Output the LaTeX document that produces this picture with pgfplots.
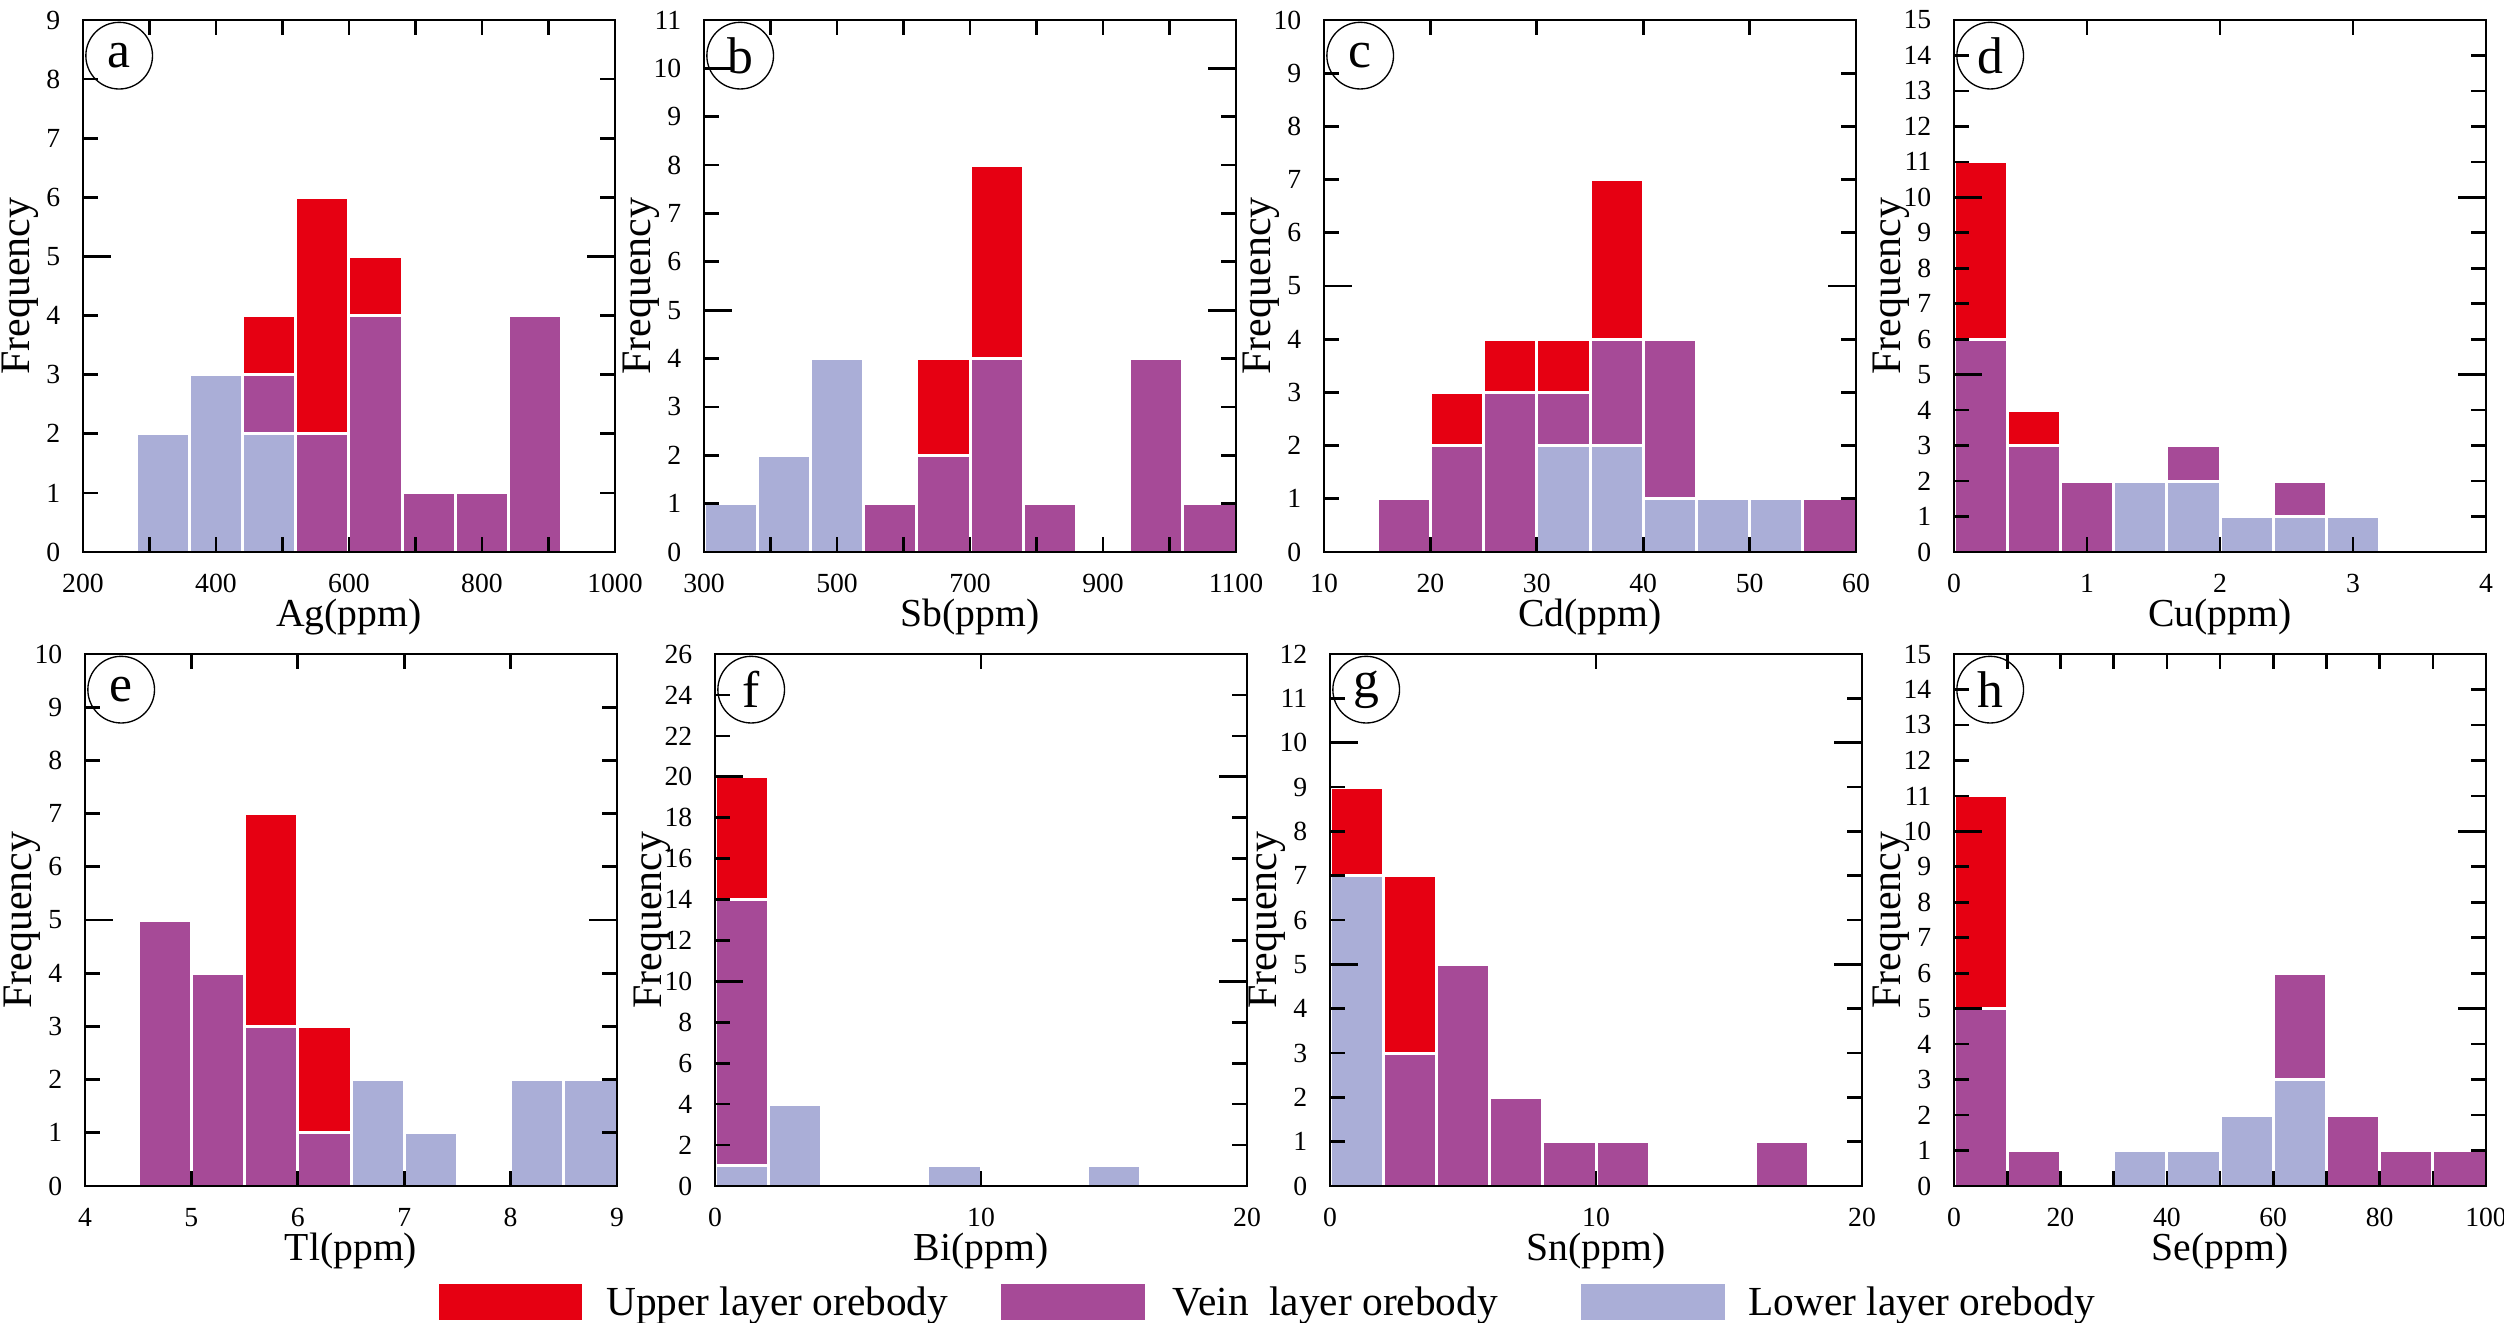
\documentclass[border=0pt]{standalone}
\usepackage{fontspec}
\setmainfont{Liberation Serif}
\usepackage{pgfplots}
\pgfplotsset{compat=1.18}
\definecolor{cupper}{RGB}{230,0,18}
\definecolor{cvein}{RGB}{166,74,151}
\definecolor{clower}{RGB}{170,174,215}
\tikzset{lab/.style={draw, circle, line width=0.4pt, minimum size=20pt, inner sep=0pt, font=\fontsize{15.5}{15.5}\selectfont}}
\pgfplotsset{
  panel/.style={
    scale only axis, width=159.6pt, height=159.6pt, anchor=south west,
    ybar stacked, axis on top, ymin=0,
    tick align=inside,
    axis line style={line width=0.8pt, black},
    tick style={line width=0.8pt, black},
    major tick length=4.5pt,
    tick label style={font=\fontsize{8.3}{9}\selectfont},
    /pgf/number format/assume math mode=true,
    scaled ticks=false,
    xticklabel style={yshift=-3.2pt},
    yticklabel style={xshift=-3.3pt},
    every axis x label/.style={at={(axis description cs:0.5,0)}, anchor=base, yshift=-22.4pt, font=\fontsize{11.9}{13}\selectfont},
    every axis y label/.style={at={(axis description cs:-0.118,0.5)}, rotate=90, anchor=center, font=\fontsize{12.6}{13}\selectfont},
    ylabel={Frequency},
    extra y tick labels={},
    extra y tick style={major tick length=8.5pt},
  },
  pl/.style={fill=clower, draw=white, line width=0.9pt},
  pv/.style={fill=cvein, draw=white, line width=0.9pt},
  pu/.style={fill=cupper, draw=white, line width=0.9pt},
}
\begin{document}
\begin{tikzpicture}
\useasboundingbox (0,0) rectangle (751.2pt,396.6pt);
% a
\begin{axis}[panel, at={(24.9pt,231pt)}, xmin=200, xmax=1000, ymax=9, bar width=80,
  xtick={200,300,...,1000}, xticklabels={200,,400,,600,,800,,1000}, ytick={0,...,9},
  extra y ticks={5}, xlabel={Ag(ppm)}]
\addplot[pl] coordinates {(320,2) (400,3) (480,2) (560,0) (640,0) (720,0) (800,0) (880,0)};
\addplot[pv] coordinates {(320,0) (400,0) (480,1) (560,2) (640,4) (720,1) (800,1) (880,4)};
\addplot[pu] coordinates {(320,0) (400,0) (480,1) (560,4) (640,1) (720,0) (800,0) (880,0)};
\node[lab] at (rel axis cs:0.068,0.933) {a};
\end{axis}
% b
\begin{axis}[panel, at={(211.2pt,231pt)}, xmin=300, xmax=1100, ymax=11, bar width=80,
  xtick={300,400,...,1100}, xticklabels={300,,500,,700,,900,,1100}, ytick={0,...,11},
  extra y ticks={5,10}, xlabel={Sb(ppm)}]
\addplot[pl] coordinates {(340,1) (420,2) (500,4) (580,0) (660,0) (740,0) (820,0) (900,0) (980,0) (1060,0)};
\addplot[pv] coordinates {(340,0) (420,0) (500,0) (580,1) (660,2) (740,4) (820,1) (900,0) (980,4) (1060,1)};
\addplot[pu] coordinates {(340,0) (420,0) (500,0) (580,0) (660,2) (740,4) (820,0) (900,0) (980,0) (1060,0)};
\node[lab] at (rel axis cs:0.068,0.933) {b};
\end{axis}
% c
\begin{axis}[panel, at={(397.2pt,231pt)}, xmin=10, xmax=60, ymax=10, bar width=5,
  xtick={10,20,...,60}, ytick={0,...,10},
  extra y ticks={5,10}, xlabel={Cd(ppm)}]
\addplot[pl] coordinates {(17.5,0) (22.5,0) (27.5,0) (32.5,2) (37.5,2) (42.5,1) (47.5,1) (52.5,1) (57.5,0)};
\addplot[pv] coordinates {(17.5,1) (22.5,2) (27.5,3) (32.5,1) (37.5,2) (42.5,3) (47.5,0) (52.5,0) (57.5,1)};
\addplot[pu] coordinates {(17.5,0) (22.5,1) (27.5,1) (32.5,1) (37.5,3) (42.5,0) (47.5,0) (52.5,0) (57.5,0)};
\node[lab] at (rel axis cs:0.068,0.933) {c};
\end{axis}
% d
\begin{axis}[panel, at={(586.2pt,231pt)}, xmin=0, xmax=4, ymax=15, bar width=0.4,
  xtick={0,1,2,3,4}, ytick={0,...,15},
  extra y ticks={5,10,15}, xlabel={Cu(ppm)}]
\addplot[pl] coordinates {(0.2,0) (0.6,0) (1.0,0) (1.4,2) (1.8,2) (2.2,1) (2.6,1) (3.0,1)};
\addplot[pv] coordinates {(0.2,6) (0.6,3) (1.0,2) (1.4,0) (1.8,1) (2.2,0) (2.6,1) (3.0,0)};
\addplot[pu] coordinates {(0.2,5) (0.6,1) (1.0,0) (1.4,0) (1.8,0) (2.2,0) (2.6,0) (3.0,0)};
\node[lab] at (rel axis cs:0.068,0.933) {d};
\end{axis}
% e
\begin{axis}[panel, at={(25.5pt,40.8pt)}, xmin=4, xmax=9, ymax=10, bar width=0.5,
  xtick={4,...,9}, ytick={0,...,10},
  extra y ticks={5,10}, xlabel={Tl(ppm)}]
\addplot[pl] coordinates {(4.75,0) (5.25,0) (5.75,0) (6.25,0) (6.75,2) (7.25,1) (7.75,0) (8.25,2) (8.75,2)};
\addplot[pv] coordinates {(4.75,5) (5.25,4) (5.75,3) (6.25,1) (6.75,0) (7.25,0) (7.75,0) (8.25,0) (8.75,0)};
\addplot[pu] coordinates {(4.75,0) (5.25,0) (5.75,4) (6.25,2) (6.75,0) (7.25,0) (7.75,0) (8.25,0) (8.75,0)};
\node[lab] at (rel axis cs:0.068,0.933) {e};
\end{axis}
% f
\begin{axis}[panel, at={(214.5pt,40.8pt)}, xmin=0, xmax=20, ymax=26, bar width=2,
  xtick={0,10,20}, ytick={0,2,...,26},
  extra y ticks={10,20}, xlabel={Bi(ppm)}]
\addplot[pl] coordinates {(1,1) (3,4) (5,0) (7,0) (9,1) (11,0) (13,0) (15,1)};
\addplot[pv] coordinates {(1,13) (3,0) (5,0) (7,0) (9,0) (11,0) (13,0) (15,0)};
\addplot[pu] coordinates {(1,6) (3,0) (5,0) (7,0) (9,0) (11,0) (13,0) (15,0)};
\node[lab] at (rel axis cs:0.068,0.933) {f};
\end{axis}
% g
\begin{axis}[panel, at={(399pt,40.8pt)}, xmin=0, xmax=20, ymax=12, bar width=2,
  xtick={0,10,20}, ytick={0,...,12},
  extra y ticks={5,10}, xlabel={Sn(ppm)}]
\addplot[pl] coordinates {(1,7) (3,0) (5,0) (7,0) (9,0) (11,0) (13,0) (15,0) (17,0)};
\addplot[pv] coordinates {(1,0) (3,3) (5,5) (7,2) (9,1) (11,1) (13,0) (15,0) (17,1)};
\addplot[pu] coordinates {(1,2) (3,4) (5,0) (7,0) (9,0) (11,0) (13,0) (15,0) (17,0)};
\node[lab] at (rel axis cs:0.068,0.933) {g};
\end{axis}
% h
\begin{axis}[panel, at={(586.2pt,40.8pt)}, xmin=0, xmax=100, ymax=15, bar width=10,
  xtick={0,10,...,100}, xticklabels={0,,20,,40,,60,,80,,100}, ytick={0,...,15},
  extra y ticks={5,10,15}, xlabel={Se(ppm)}]
\addplot[pl] coordinates {(5,0) (15,0) (25,0) (35,1) (45,1) (55,2) (65,3) (75,0) (85,0) (95,0)};
\addplot[pv] coordinates {(5,5) (15,1) (25,0) (35,0) (45,0) (55,0) (65,3) (75,2) (85,1) (95,1)};
\addplot[pu] coordinates {(5,6) (15,0) (25,0) (35,0) (45,0) (55,0) (65,0) (75,0) (85,0) (95,0)};
\node[lab] at (rel axis cs:0.068,0.933) {h};
\end{axis}
% legend
\begin{axis}[at={(0pt,0pt)}, anchor=south west, scale only axis, width=751.2pt, height=396.6pt,
  hide axis, xmin=0, xmax=1, ymin=0, ymax=1,
  legend columns=3,
  legend style={at={(0.1753,0.0151)}, anchor=west, draw=none, fill=none, inner sep=0pt, outer sep=0pt,
    font=\fontsize{12.4}{13}\selectfont, column sep=0pt, nodes={inner sep=0pt, outer sep=0pt}},
  legend image code/.code={\fill[#1] (0pt,-4.75pt) rectangle (43pt,6.05pt);}]
\addlegendimage{fill=cupper, draw=none}
\addlegendentry{\makebox[125.7pt][l]{\hspace*{7.2pt}Upper layer orebody}}
\addlegendimage{fill=cvein, draw=none}
\addlegendentry{\makebox[131pt][l]{\hspace*{8.5pt}Vein\ \ layer orebody}}
\addlegendimage{fill=clower, draw=none}
\addlegendentry{\hspace*{7.2pt}Lower layer orebody}
\end{axis}
\end{tikzpicture}
\end{document}
